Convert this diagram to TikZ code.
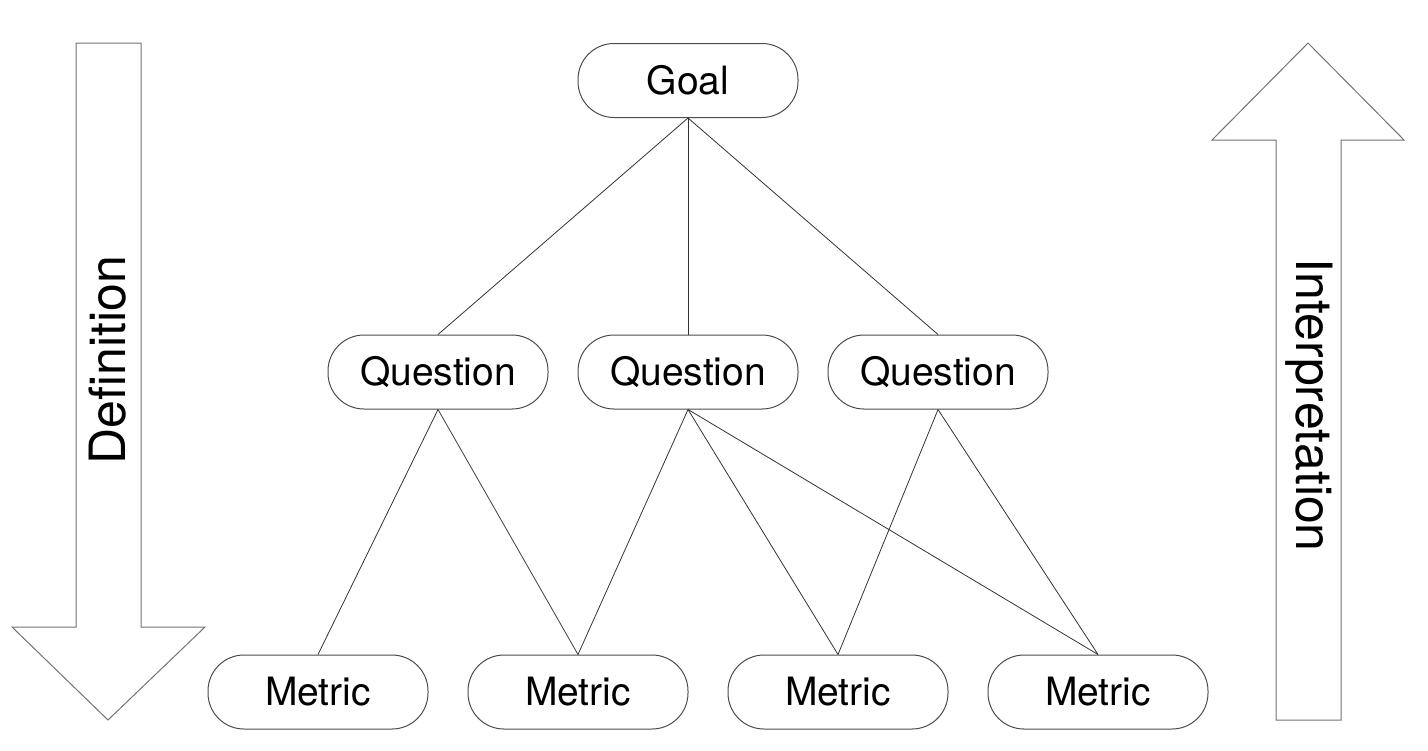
\documentclass[tikz,border=0pt]{standalone}
\usepackage{fontspec}
\setmainfont{TeX Gyre Heros}
\begin{document}
\begin{tikzpicture}[x=0.5pt,y=-0.5pt,
  box/.style={draw=black!70, line width=0.5pt, rounded corners=18pt, minimum width=110pt, minimum height=37pt, inner sep=0pt, font=\fontsize{19.5}{22}\selectfont},
  link/.style={draw=black!80, line width=0.4pt},
  bigarrow/.style={draw=black!55, line width=0.5pt, fill=white},
  arrowtext/.style={inner sep=0pt, font=\fontsize{25}{30}\selectfont}]
\useasboundingbox (0,0) rectangle (1428,750);
% big arrows
\draw[bigarrow] (76,43) -- (141,43) -- (141,627) -- (205,627) -- (108,720) -- (12,627) -- (76,627) -- cycle;
\node[arrowtext, rotate=90] (def) at (108,360) {Definition};
\draw[bigarrow] (1276,720) -- (1341,720) -- (1341,140) -- (1404,140) -- (1308,43) -- (1212,140) -- (1276,140) -- cycle;
\node[arrowtext, rotate=-90] (interp) at (1309,405) {Interpretation};
% nodes
\node[box] (goal) at (688,80.5) {Goal};
\node[box] (q1) at (438,372) {Question};
\node[box] (q2) at (688,372) {Question};
\node[box] (q3) at (938,372) {Question};
\node[box] (m1) at (318,692) {Metric};
\node[box] (m2) at (578,692) {Metric};
\node[box] (m3) at (838,692) {Metric};
\node[box] (m4) at (1098,692) {Metric};
% links
\draw[link] (goal.south) -- (q1.north);
\draw[link] (goal.south) -- (q2.north);
\draw[link] (goal.south) -- (q3.north);
\draw[link] (q1.south) -- (m1.north);
\draw[link] (q1.south) -- (m2.north);
\draw[link] (q2.south) -- (m2.north);
\draw[link] (q2.south) -- (m3.north);
\draw[link] (q2.south) -- (m4.north);
\draw[link] (q3.south) -- (m3.north);
\draw[link] (q3.south) -- (m4.north);
\end{tikzpicture}
\end{document}
